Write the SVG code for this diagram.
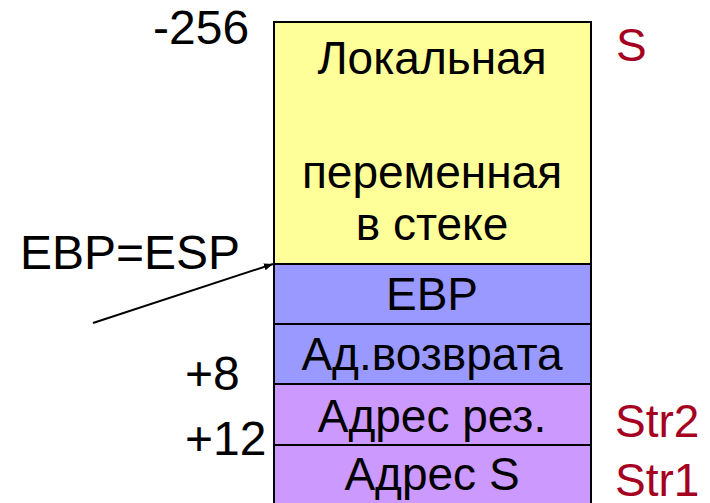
<svg xmlns="http://www.w3.org/2000/svg" width="710" height="503" viewBox="0 0 710 503">
<defs>
<style>
text{font-family:"Liberation Sans",Arial,sans-serif;font-size:46px;fill:#000}
.c{text-anchor:middle}
.l{font-size:48px}
.r{fill:#A50021}
.cell{stroke:#000;stroke-width:2}
</style>
<marker id="ah" viewBox="0 0 10 10" refX="10" refY="5" markerWidth="9" markerHeight="9" orient="auto" markerUnits="userSpaceOnUse"><path d="M0,1 L10,5 L0,9 z" fill="#000"/></marker>
</defs>
<rect width="710" height="503" fill="#fff"/>
<g id="local">
<rect class="cell" x="274" y="22" width="317" height="242" fill="#FFFF99"/>
<text class="c" x="432" y="74">Локальная</text>
<text class="c" x="432" y="188">переменная</text>
<text class="c" x="432" y="240">в стеке</text>
</g>
<g id="ebp">
<rect class="cell" x="274" y="264" width="317" height="60" fill="#9999FF"/>
<text class="c" x="432" y="310">EBP</text>
</g>
<g id="ret">
<rect class="cell" x="274" y="324" width="317" height="60" fill="#9999FF"/>
<text class="c" x="432" y="370">Ад.возврата</text>
</g>
<g id="res">
<rect class="cell" x="274" y="384" width="317" height="61" fill="#CC99FF"/>
<text class="c" x="432" y="432">Адрес рез.</text>
</g>
<g id="adrs">
<rect class="cell" x="274" y="445" width="317" height="70" fill="#CC99FF"/>
<text class="c" x="432" y="490">Адрес S</text>
</g>
<g id="labels">
<text class="l" x="153" y="44">-256</text>
<text class="l" x="20" y="269">EBP=ESP</text>
<text class="l" x="185" y="390">+8</text>
<text class="l" x="185" y="455">+12</text>
<text class="r" x="616" y="61">S</text>
<text class="r" x="615" y="437">Str2</text>
<text class="r" x="615" y="496">Str1</text>
</g>
<g id="connectors">
<line x1="93" y1="323" x2="273" y2="264" stroke="#000" stroke-width="2" marker-end="url(#ah)"/>
</g>
</svg>
